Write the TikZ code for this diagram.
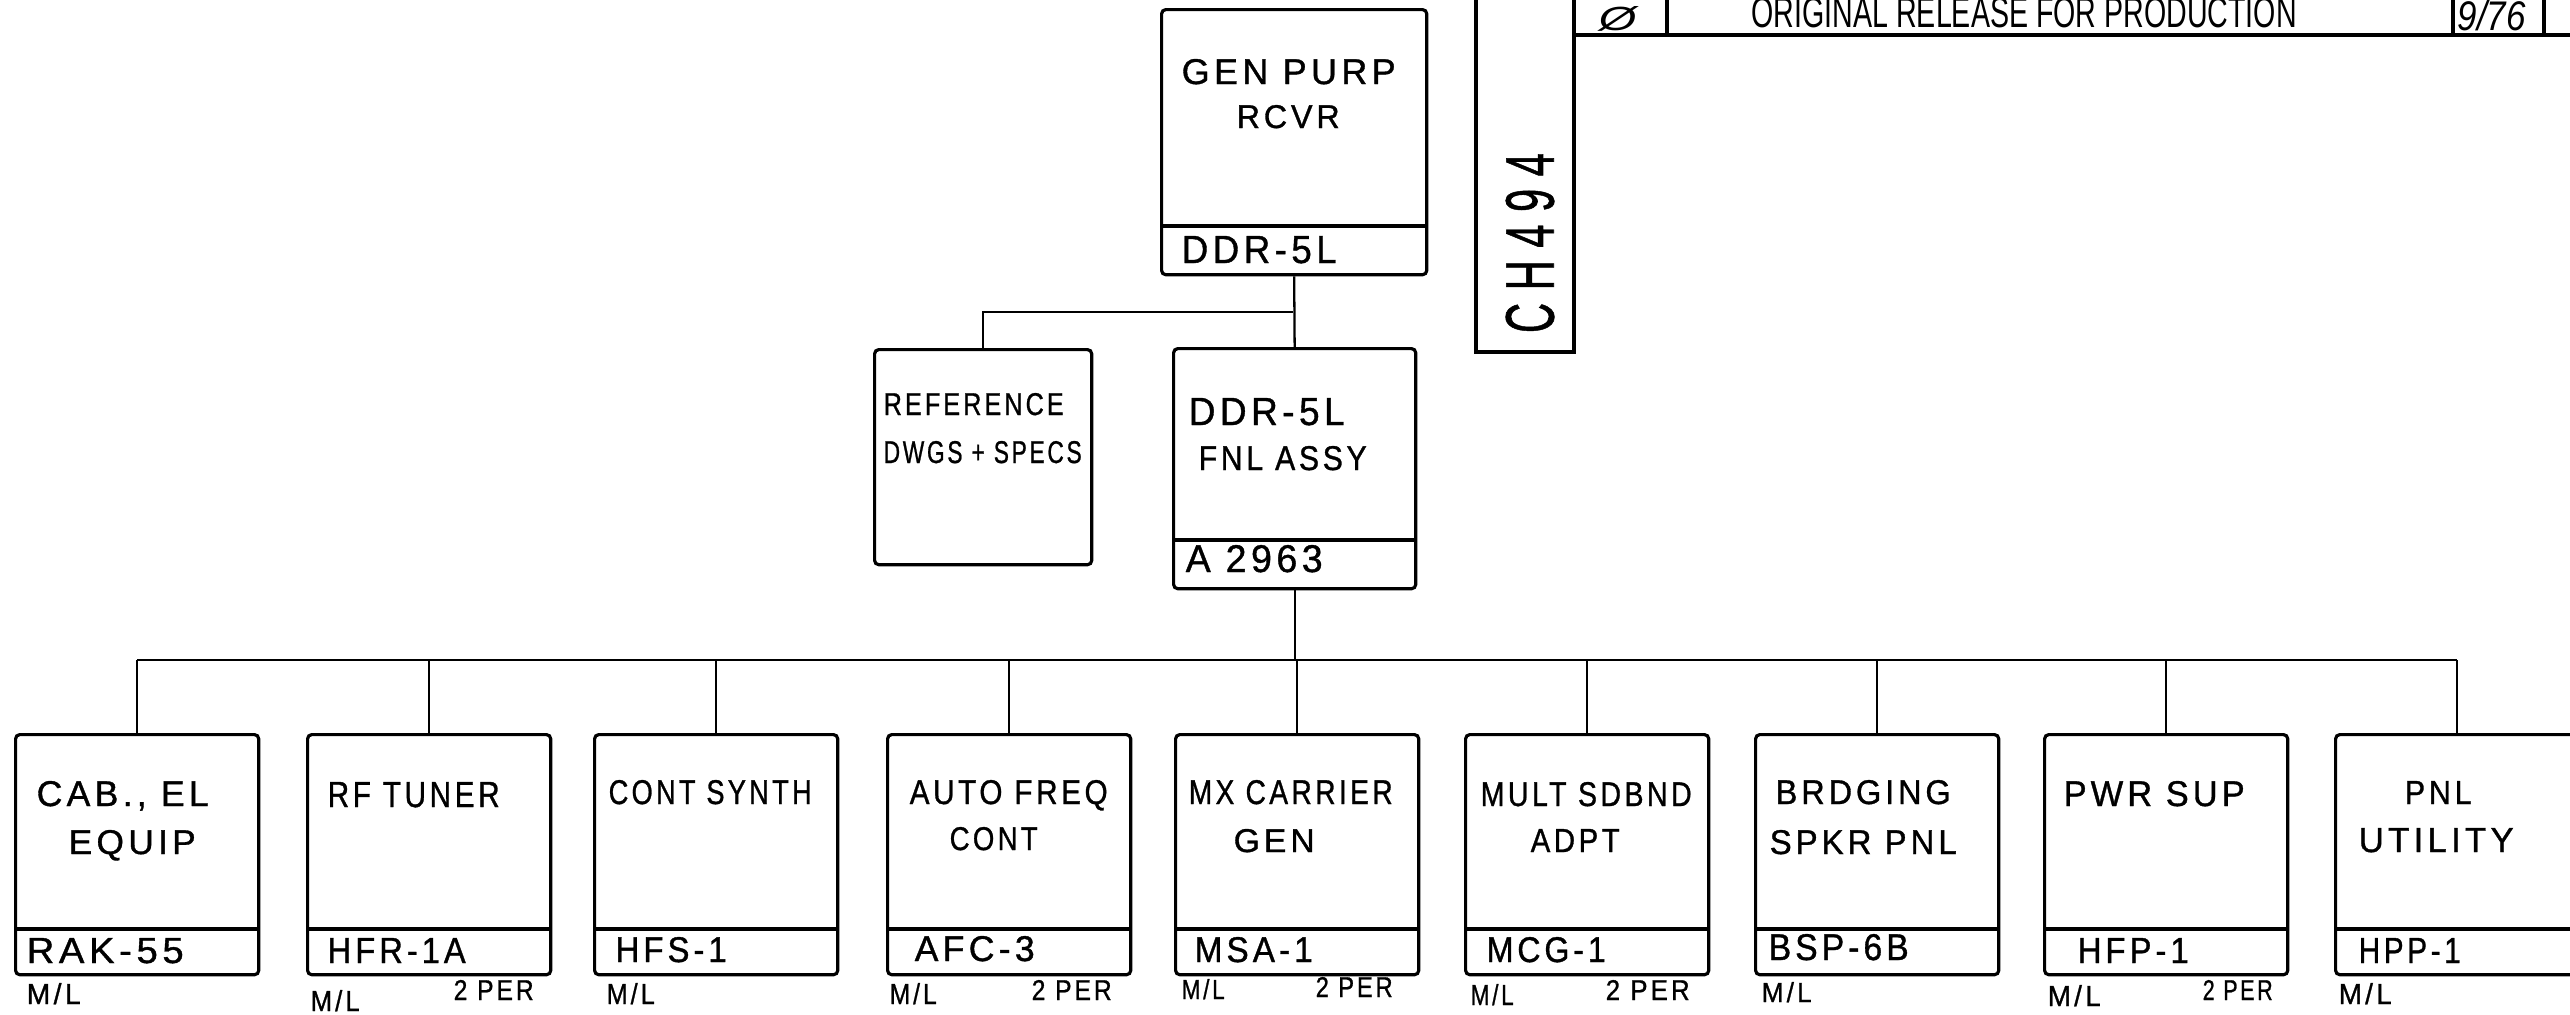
\documentclass[tikz,border=0pt]{standalone}
\usepackage{fontspec}
\setmainfont{Liberation Sans}
\newfontfamily\hand[LetterSpace=12,FakeBold=1]{Liberation Sans}
\usepackage{graphicx}
\newlength\pxu \setlength\pxu{0.01cm}
\newcommand\fitt[3]{\resizebox{#1\pxu}{#2\pxu}{#3}}
\newcommand\putlbl[6]{\node[txt] (#1) at (#2,#3) {\fitt{#4}{#5}{#6}};}
\begin{document}
\begin{tikzpicture}[x=0.01cm,y=-0.01cm,
  box/.style={draw, line width=0.9pt, rounded corners=1.2pt, inner sep=0, anchor=north west},
  divider/.style={line width=1.2pt},
  conn/.style={line width=0.65pt},
  frame/.style={line width=1pt},
  txt/.style={anchor=base west, inner sep=0, font=\hand}]
\useasboundingbox (0,0) rectangle (2570,1014);
\fill[white] (0,0) rectangle (2570,1014);

% title block and CH494 frame
\draw[frame] (1476,-10) -- (1476,352) -- (1574,352) -- (1574,-10);
\draw[frame] (1574,35) -- (2590,35);
\draw[frame] (1667,-10) -- (1667,35);
\draw[frame] (2453,-10) -- (2453,35);
\draw[frame] (2544,-10) -- (2544,35);
\node[anchor=base west, inner sep=0] (ttl) at (1751,27) {\fitt{545}{30}{ORIGINAL RELEASE FOR PRODUCTION}};
\node[anchor=base west, inner sep=0] (tz) at (1598,30) {\fitt{38}{24}{\itshape Ø}};
\node[anchor=base west, inner sep=0] (tdate) at (2457,30) {\fitt{68}{30}{\itshape 9/76}};
\node[rotate=90, inner sep=0, font=\hand] (tch) at (1530,243) {\fitt{180}{48}{C\hspace{0.3em}H\hspace{0.3em}4\hspace{0.3em}9\hspace{0.3em}4}};

% upper boxes
\node[box, minimum width=2.65cm, minimum height=2.65cm] (gen) at (1160,8) {};
\node[box, minimum width=2.17cm, minimum height=2.15cm] (ref) at (873,348) {};
\node[box, minimum width=2.42cm, minimum height=2.40cm] (fnl) at (1172,347) {};
\draw[divider] ([yshift=0.50cm]gen.south west) -- ([yshift=0.50cm]gen.south east);
\draw[divider] ([yshift=0.50cm]fnl.south west) -- ([yshift=0.50cm]fnl.south east);

% lower boxes
\foreach \i/\x in {1/14,2/306,3/593,4/886,5/1174,6/1464,7/1754,8/2043,9/2334}{
  \node[box, minimum width=2.43cm, minimum height=2.40cm] (b\i) at (\x,733) {};
  \draw[divider] ([yshift=0.47cm]b\i.south west) -- ([yshift=0.47cm]b\i.south east);
}

% connectors
\draw[conn] (gen.south) -- (fnl.north);
\coordinate (jn) at (1293,312);
\draw[conn] (jn) -| (ref.north);
\coordinate (busY) at (0,660);
\draw[conn] (b1.north |- busY) -- (b9.north |- busY);
\foreach \i in {1,...,9}{ \draw[conn] (b\i.north) -- (b\i.north |- busY); }
\draw[conn] (fnl.south) -- (fnl.south |- busY);

% upper texts
\putlbl{tgen1}{1181}{84}{214}{25}{GEN PURP}
\putlbl{tgen2}{1236}{128}{103}{23}{RCVR}
\putlbl{tgen3}{1181}{263}{155}{27}{DDR-5L}
\putlbl{tref1}{883}{415}{180}{22}{REFERENCE}
\putlbl{tref2}{883}{463}{198}{22}{DWGS + SPECS}
\putlbl{tfnl1}{1188}{425}{156}{27}{DDR-5L}
\putlbl{tfnl2}{1198}{470}{168}{24}{FNL ASSY}
\putlbl{tfnl3}{1185}{572}{137}{27}{A 2963}

% lower texts
\putlbl{t1a}{36}{806}{172}{25}{CAB., EL}
\putlbl{t1b}{68}{854}{127}{24}{EQUIP}
\putlbl{t1c}{26}{963}{157}{25}{RAK-55}
\putlbl{t1d}{26}{1004}{54}{21}{M/L}

\putlbl{t2a}{327}{807}{172}{25}{RF TUNER}
\putlbl{t2c}{327}{963}{138}{25}{HFR-1A}
\putlbl{t2d}{310}{1011}{49}{21}{M/L}
\putlbl{t2e}{453}{1000}{80}{20}{2 PER}

\putlbl{t3a}{608}{804}{203}{24}{CONT SYNTH}
\putlbl{t3c}{615}{962}{111}{25}{HFS-1}
\putlbl{t3d}{606}{1004}{48}{21}{M/L}

\putlbl{t4a}{909}{804}{198}{24}{AUTO FREQ}
\putlbl{t4b}{949}{850}{88}{23}{CONT}
\putlbl{t4c}{914}{961}{120}{25}{AFC-3}
\putlbl{t4d}{889}{1004}{47}{21}{M/L}
\putlbl{t4e}{1031}{1000}{80}{20}{2 PER}

\putlbl{t5a}{1188}{804}{204}{24}{MX CARRIER}
\putlbl{t5b}{1233}{852}{81}{23}{GEN}
\putlbl{t5c}{1194}{962}{118}{25}{MSA-1}
\putlbl{t5d}{1181}{999}{43}{20}{M/L}
\putlbl{t5e}{1315}{997}{77}{20}{2 PER}

\putlbl{t6a}{1480}{806}{211}{24}{MULT SDBND}
\putlbl{t6b}{1530}{852}{89}{23}{ADPT}
\putlbl{t6c}{1486}{962}{119}{25}{MCG-1}
\putlbl{t6d}{1470}{1005}{43}{21}{M/L}
\putlbl{t6e}{1605}{1000}{84}{20}{2 PER}

\putlbl{t7a}{1775}{804}{175}{24}{BRDGING}
\putlbl{t7b}{1769}{854}{187}{24}{SPKR PNL}
\putlbl{t7c}{1768}{960}{140}{26}{BSP-6B}
\putlbl{t7d}{1761}{1002}{50}{20}{M/L}

\putlbl{t8a}{2063}{806}{181}{25}{PWR SUP}
\putlbl{t8c}{2077}{963}{111}{25}{HFP-1}
\putlbl{t8d}{2047}{1006}{53}{21}{M/L}
\putlbl{t8e}{2202}{1000}{70}{20}{2 PER}

\putlbl{t9a}{2404}{804}{67}{23}{PNL}
\putlbl{t9b}{2358}{852}{155}{24}{UTILITY}
\putlbl{t9c}{2358}{963}{102}{25}{HPP-1}
\putlbl{t9d}{2338}{1004}{53}{21}{M/L}
\end{tikzpicture}
\end{document}
